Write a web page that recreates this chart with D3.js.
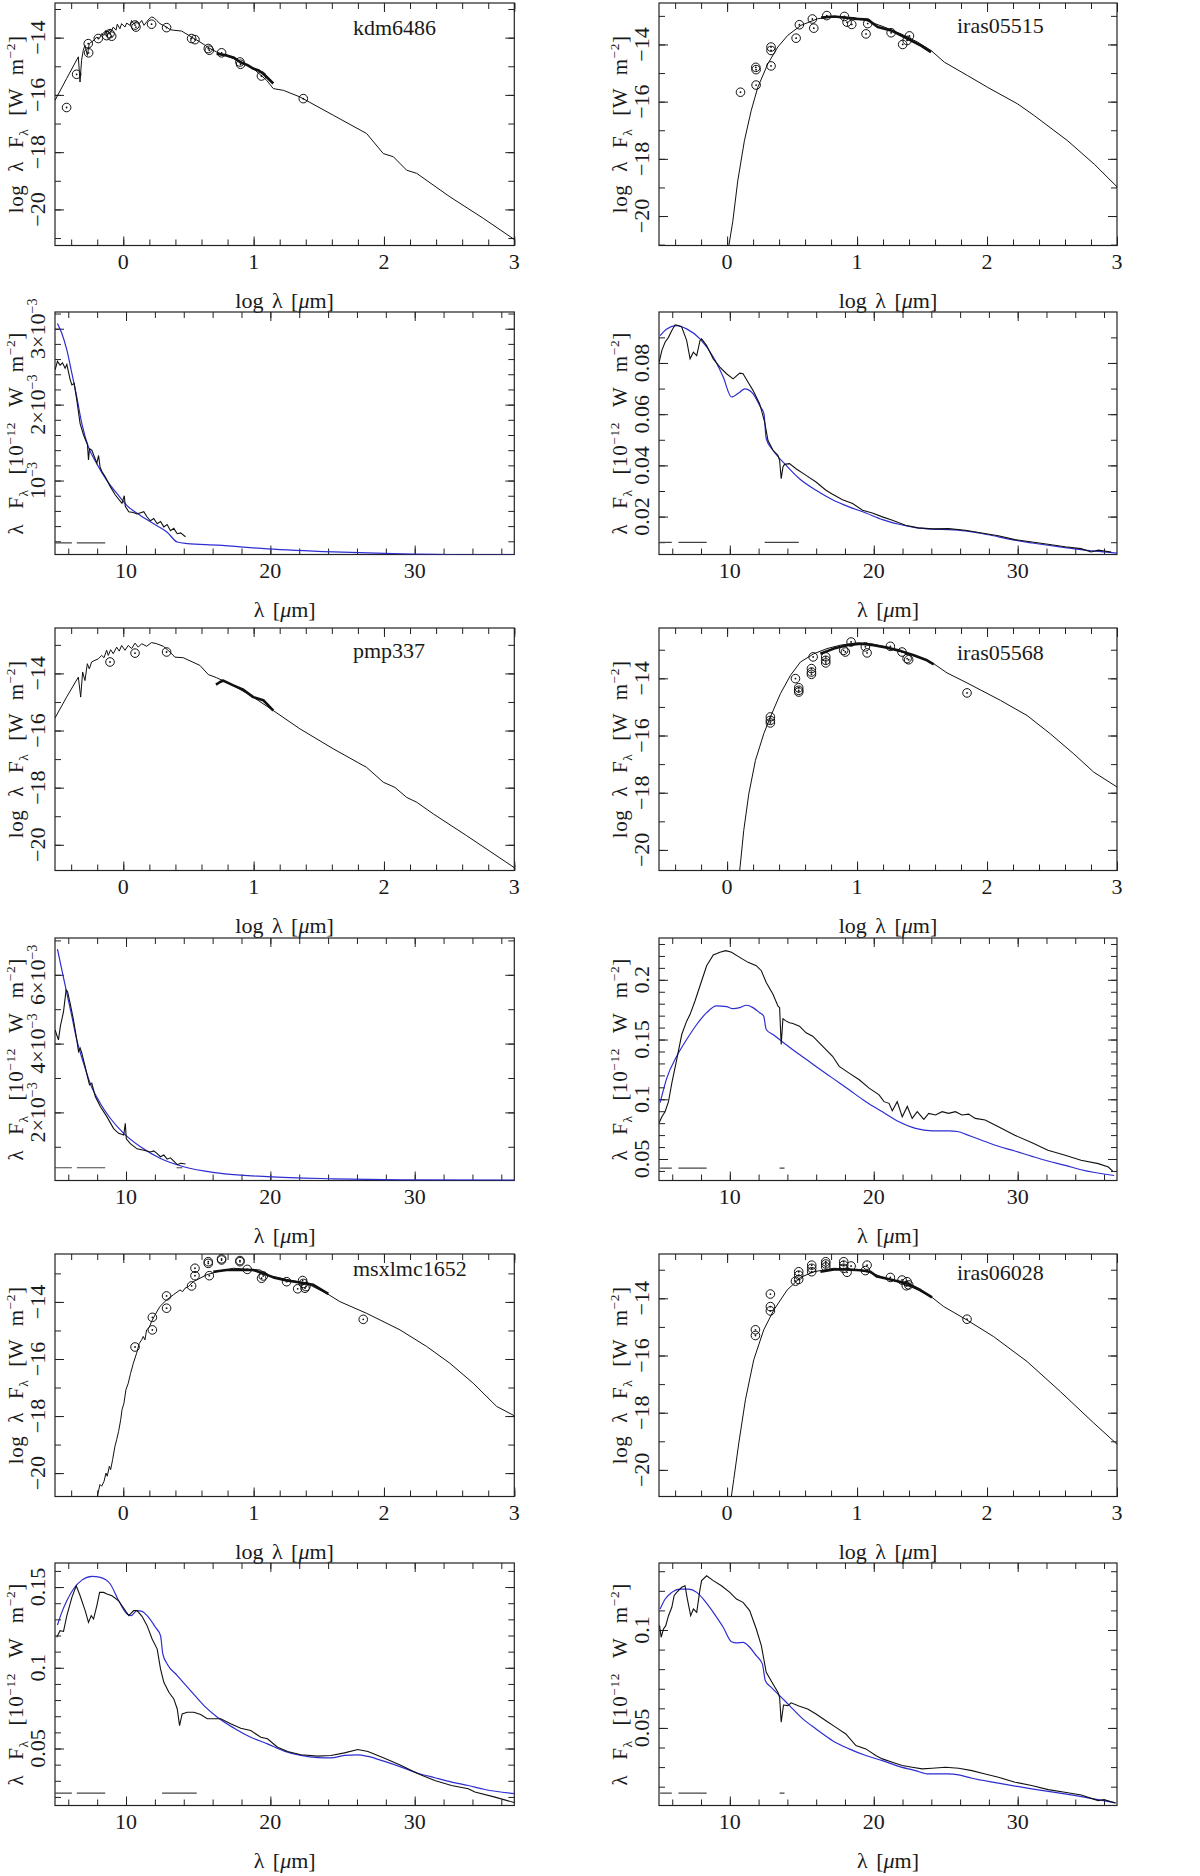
<!DOCTYPE html>
<html>
<head>
<meta charset="utf-8">
<script src="https://cdn.jsdelivr.net/npm/d3@7"></script>
<style>
body { margin: 0; background: #fff; overflow: hidden; }
svg text { font-family: "Liberation Serif", "Times New Roman", serif; fill: #1a1a1a; }
</style>
</head>
<body>
<div id="part"></div>
<script>

// ---- kdm6486 ----
var kdmModel = [[-0.524,-16.19],[-0.435,-15.43],[-0.345,-14.67],[-0.332,-15.55],[-0.320,-14.79],[-0.307,-14.44],[-0.294,-14.27],[-0.276,-14.62],[-0.261,-14.21],[-0.243,-14.15],[-0.225,-14.09],[-0.205,-13.98],[-0.184,-14.03],[-0.166,-13.86],[-0.148,-13.92],[-0.133,-13.74],[-0.123,-13.92],[-0.107,-13.72],[-0.095,-13.80],[-0.077,-13.63],[-0.056,-13.74],[-0.046,-13.53],[-0.026,-13.69],[-0.013,-13.51],[0.013,-13.63],[0.026,-13.49],[0.051,-13.57],[0.064,-13.40],[0.082,-13.53],[0.102,-13.42],[0.123,-13.51],[0.141,-13.40],[0.159,-13.57],[0.179,-13.45],[0.199,-13.34],[0.217,-13.28],[0.235,-13.30],[0.256,-13.40],[0.281,-13.51],[0.307,-13.57],[0.332,-13.63],[0.358,-13.72],[0.384,-13.74],[0.448,-13.77],[0.524,-13.98],[0.588,-14.15],[0.665,-14.38],[0.716,-14.50],[0.844,-14.73],[0.997,-15.08],[1.100,-15.49],[1.151,-15.78],[1.228,-15.84],[1.355,-16.07],[1.611,-16.71],[1.867,-17.35],[1.995,-18.05],[2.072,-18.16],[2.174,-18.63],[2.251,-18.74],[2.506,-19.56],[2.762,-20.31],[3.0,-21.05]];
var kdmIrs = [[0.716,-14.56],[0.793,-14.62],[0.850,-14.70],[0.895,-14.85],[0.950,-14.95],[0.997,-15.08],[1.040,-15.15],[1.074,-15.26],[1.110,-15.42],[1.151,-15.60]];
var kdmPhot = [[-0.435,-16.44],[-0.358,-15.28],[-0.266,-14.53],[-0.269,-14.21],[-0.192,-14.03],[-0.128,-13.93],[-0.102,-13.86],[-0.089,-13.95],[0.090,-13.56],[0.097,-13.63],[0.217,-13.53],[0.332,-13.65],[0.524,-14.03],[0.550,-14.07],[0.652,-14.38],[0.660,-14.44],[0.754,-14.53],[0.895,-14.85],[0.900,-14.93],[1.060,-15.34],[1.381,-16.13]];
var kdmSpec = [[5.09,0.00246],[5.25,0.00257],[5.43,0.00252],[5.6,0.00255],[5.78,0.00248],[5.9,0.00253],[6.13,0.00233],[6.25,0.00226],[6.41,0.00228],[6.59,0.00206],[6.82,0.00175],[7.06,0.0016],[7.33,0.00147],[7.40,0.00127],[7.47,0.00142],[7.63,0.00140],[7.98,0.00123],[8.1,0.00133],[8.2,0.00118],[8.33,0.00112],[8.56,0.00105],[8.91,0.00092],[9.26,0.00081],[9.72,0.0007],[9.88,0.00080],[9.95,0.00066],[10.19,0.00059],[10.5,0.00058],[10.76,0.00056],[11.23,0.00059],[11.46,0.00052],[11.69,0.00047],[11.92,0.0005],[12.16,0.00043],[12.39,0.00046],[12.62,0.00039],[12.85,0.00042],[13.08,0.00034],[13.31,0.00037],[13.55,0.0003],[13.78,0.00031],[14.12,0.00026]];
var kdmFit = [[5.25,0.00307],[5.55,0.00294],[5.9,0.00272],[6.25,0.00241],[6.59,0.0021],[6.94,0.00175],[7.4,0.00144],[7.98,0.00122],[8.68,0.001],[9.37,0.00083],[10.07,0.00067],[11.0,0.00054],[11.92,0.00043],[12.85,0.00032],[13.55,0.00019],[14.24,0.00017],[16.33,0.00015],[19.8,0.0001],[24.4,0.00006],[29.1,0.000035],[37,0.00002]];
var kdmDash = [[5.08,6.25],[6.59,8.56]];

// ---- iras05515 ----
var i05515Model = [[0.005,-21.5],[0.013,-21.05],[0.044,-20.18],[0.082,-18.77],[0.133,-17.37],[0.185,-16.32],[0.236,-15.5],[0.313,-14.68],[0.39,-14.09],[0.467,-13.68],[0.569,-13.33],[0.697,-13.1],[0.826,-13.02],[0.979,-13.06],[1.082,-13.18],[1.21,-13.39],[1.338,-13.63],[1.467,-13.92],[1.569,-14.21],[1.672,-14.62],[1.851,-15.09],[2.005,-15.5],[2.236,-16.08],[2.364,-16.49],[2.621,-17.37],[2.826,-18.19],[3.005,-19.0]];
var i05515Irs = [[0.723,-13.06],[0.826,-13.02],[0.979,-13.1],[1.082,-13.13],[1.159,-13.39],[1.262,-13.51],[1.39,-13.8],[1.492,-14.04],[1.569,-14.27]];
var i05515Phot = [[0.103,-15.67],[0.221,-14.8],[0.223,-14.88],[0.223,-15.42],[0.338,-14.09],[0.338,-14.21],[0.338,-14.75],[0.531,-13.78],[0.556,-13.31],[0.656,-13.11],[0.667,-13.43],[0.767,-12.99],[0.903,-13.02],[0.923,-13.22],[0.959,-13.3],[1.069,-13.63],[1.082,-13.27],[1.262,-13.59],[1.351,-14.0],[1.385,-13.86],[1.403,-13.7]];
var i05515Spec = [[5.09,0.0803],[5.28,0.0849],[5.5,0.0881],[5.74,0.09],[5.97,0.0927],[6.2,0.0949],[6.43,0.0946],[6.66,0.094],[7.0,0.0888],[7.24,0.0816],[7.47,0.0842],[7.7,0.0829],[7.93,0.0888],[8.04,0.0894],[8.39,0.0868],[8.85,0.0816],[9.31,0.0784],[9.77,0.0758],[10.23,0.0738],[10.69,0.076],[10.92,0.0758],[11.27,0.0725],[11.61,0.0693],[12.07,0.0641],[12.42,0.0569],[12.65,0.0498],[13.0,0.0459],[13.34,0.0439],[13.46,0.042],[13.57,0.0348],[13.69,0.0394],[13.8,0.0404],[14.15,0.0407],[14.6,0.0387],[15.3,0.0361],[15.99,0.0335],[16.68,0.0303],[17.14,0.0287],[17.83,0.0266],[18.53,0.0251],[19.22,0.0225],[19.9,0.0214],[20.6,0.0199],[21.3,0.0186],[22.2,0.0166],[23.1,0.0156],[24.06,0.0152],[25.2,0.0153],[26.36,0.0147],[27.5,0.0136],[28.66,0.0125],[29.8,0.011],[31.0,0.0101],[32.1,0.0092],[33.3,0.0082],[34.4,0.0075],[35.1,0.0062],[35.6,0.0069],[36.5,0.0062]];
var i05515Fit = [[5.16,0.0907],[5.62,0.0933],[6.31,0.0946],[7.0,0.0933],[7.93,0.0894],[8.85,0.0823],[9.54,0.0745],[10.12,0.0667],[10.69,0.0686],[11.04,0.0699],[11.61,0.068],[12.07,0.0634],[12.37,0.0602],[12.53,0.0504],[13.0,0.0459],[13.92,0.04],[14.84,0.0348],[15.99,0.0303],[17.14,0.0266],[18.29,0.0238],[19.45,0.0214],[20.6,0.0188],[21.75,0.017],[22.9,0.0157],[24.06,0.0151],[25.2,0.0149],[26.36,0.0144],[27.5,0.0134],[28.66,0.0121],[29.8,0.0108],[31.0,0.0097],[32.1,0.0088],[33.3,0.0079],[34.4,0.0071],[36.0,0.0062],[37.0,0.0057]];
var i05515Dash = [[5.16,5.97],[6.43,8.39],[12.42,14.79]];

// ---- pmp337 ----
var pmpModel = [[-0.524,-15.56],[-0.435,-14.83],[-0.345,-14.13],[-0.327,-14.83],[-0.312,-13.95],[-0.294,-14.25],[-0.276,-13.66],[-0.261,-13.84],[-0.243,-13.6],[-0.217,-13.54],[-0.192,-13.49],[-0.166,-13.37],[-0.148,-13.45],[-0.128,-13.19],[-0.115,-13.37],[-0.097,-13.17],[-0.077,-13.31],[-0.051,-13.08],[-0.031,-13.22],[-0.013,-13.02],[0.013,-13.19],[0.038,-13.02],[0.064,-13.13],[0.09,-12.94],[0.115,-13.08],[0.141,-12.96],[0.179,-13.05],[0.217,-12.92],[0.256,-12.96],[0.307,-13.05],[0.358,-13.25],[0.396,-13.43],[0.46,-13.45],[0.588,-13.72],[0.652,-14.04],[0.716,-14.15],[0.844,-14.42],[0.997,-14.83],[1.151,-15.3],[1.355,-15.94],[1.611,-16.64],[1.867,-17.29],[1.995,-17.81],[2.084,-17.99],[2.174,-18.34],[2.251,-18.51],[2.379,-18.92],[2.634,-19.68],[3.0,-20.8]];
var pmpIrs = [[0.711,-14.39],[0.742,-14.3],[0.767,-14.25],[0.844,-14.42],[0.921,-14.57],[0.997,-14.83],[1.074,-14.94],[1.1,-15.06],[1.151,-15.3]];
var pmpPhot = [[-0.102,-13.6],[0.09,-13.29],[0.332,-13.25]];
var pmpSpec = [[5.09,0.0044],[5.2,0.00425],[5.32,0.00411],[5.45,0.0045],[5.67,0.00493],[5.85,0.00556],[5.95,0.00551],[6.13,0.00517],[6.36,0.00469],[6.59,0.00411],[6.71,0.00377],[6.82,0.00387],[6.94,0.00372],[7.17,0.00333],[7.33,0.00304],[7.47,0.0028],[7.63,0.00285],[7.87,0.00246],[8.22,0.00217],[8.68,0.00187],[9.14,0.00153],[9.49,0.00139],[9.84,0.00134],[9.95,0.00168],[10.02,0.00123],[10.3,0.00109],[10.76,0.00094],[11.23,0.0009],[11.69,0.00085],[11.92,0.00088],[12.16,0.0008],[12.39,0.00071],[12.62,0.00076],[12.85,0.00064],[13.08,0.00068],[13.31,0.00058],[13.55,0.00048],[13.8,0.00052],[14.12,0.0005]];
var pmpFit = [[5.25,0.00675],[5.55,0.00615],[5.9,0.00547],[6.25,0.00479],[6.59,0.00411],[7.06,0.00343],[7.52,0.00284],[8.22,0.00226],[8.91,0.00183],[9.84,0.00139],[11.0,0.001],[12.39,0.00066],[14.0,0.00042],[16.33,0.00024],[19.8,0.00013],[24.4,0.00007],[29.1,0.00004],[37,0.00003]];
var pmpDash = [[5.08,6.25],[6.59,8.56],[13.5,13.9]];

// ---- iras05568 ----
var i05568Model = [[0.09,-21.0],[0.097,-20.72],[0.128,-19.32],[0.167,-18.04],[0.218,-16.87],[0.282,-15.94],[0.333,-15.35],[0.41,-14.54],[0.487,-13.9],[0.564,-13.43],[0.667,-13.14],[0.769,-12.96],[0.872,-12.84],[1.0,-12.76],[1.103,-12.79],[1.231,-12.9],[1.385,-13.14],[1.487,-13.28],[1.59,-13.49],[1.692,-13.81],[1.846,-14.16],[2.103,-14.77],[2.308,-15.3],[2.487,-15.94],[2.667,-16.64],[2.821,-17.28],[3.0,-17.8]];
var i05568Irs = [[0.718,-13.14],[0.821,-12.96],[0.923,-12.84],[1.026,-12.79],[1.128,-12.84],[1.231,-12.93],[1.333,-13.04],[1.436,-13.19],[1.538,-13.37],[1.59,-13.51]];
var i05568Phot = [[0.333,-15.35],[0.333,-15.47],[0.333,-15.56],[0.526,-14.01],[0.551,-14.33],[0.551,-14.42],[0.551,-14.48],[0.662,-13.25],[0.649,-13.66],[0.649,-13.78],[0.649,-13.86],[0.759,-13.25],[0.759,-13.37],[0.759,-13.46],[0.897,-13.02],[0.91,-13.08],[0.954,-12.73],[1.064,-12.9],[1.077,-13.11],[1.256,-12.88],[1.346,-13.08],[1.385,-13.31],[1.397,-13.35],[1.846,-14.51]];
var i05568Spec = [[5.09,0.0803],[5.28,0.0854],[5.5,0.0896],[5.74,0.098],[5.97,0.1135],[6.31,0.1331],[6.66,0.1542],[7.0,0.1654],[7.24,0.1711],[7.58,0.1823],[7.93,0.195],[8.39,0.2118],[8.85,0.2208],[9.31,0.223],[9.72,0.2244],[10.12,0.223],[10.69,0.2188],[11.27,0.2146],[11.84,0.2118],[12.19,0.2076],[12.53,0.1978],[13.0,0.1879],[13.34,0.1781],[13.46,0.1767],[13.57,0.1458],[13.69,0.1674],[13.92,0.1654],[14.15,0.164],[14.38,0.1635],[14.84,0.1612],[15.3,0.1556],[15.76,0.1528],[16.22,0.1472],[16.68,0.1416],[17.14,0.136],[17.6,0.1275],[18.29,0.1219],[18.99,0.1163],[19.68,0.1093],[20.37,0.1037],[20.71,0.098],[21.06,0.0966],[21.29,0.0904],[21.63,0.098],[21.98,0.0854],[22.33,0.094],[22.67,0.084],[23.02,0.0896],[23.48,0.0831],[23.82,0.0882],[24.29,0.0868],[24.75,0.0896],[25.2,0.0882],[25.67,0.0896],[26.13,0.0868],[26.59,0.0876],[27.05,0.084],[27.74,0.0826],[28.66,0.077],[29.8,0.0699],[31.0,0.0635],[32.1,0.0573],[33.3,0.0531],[34.4,0.0489],[35.6,0.0461],[36.3,0.0433],[36.6,0.0399]];
var i05568Fit = [[5.16,0.0972],[5.62,0.1177],[6.31,0.136],[7.0,0.15],[7.7,0.1626],[8.39,0.1725],[9.08,0.1781],[9.77,0.1775],[10.23,0.1758],[10.69,0.1767],[11.15,0.1787],[11.61,0.1767],[12.07,0.1725],[12.35,0.1697],[12.53,0.1584],[13.0,0.1542],[13.69,0.1478],[14.84,0.1374],[15.99,0.1275],[17.14,0.1177],[18.29,0.1079],[19.45,0.098],[20.6,0.0896],[21.75,0.0812],[22.9,0.0756],[24.06,0.0736],[25.2,0.0736],[25.9,0.0728],[26.36,0.0708],[27.5,0.0657],[28.66,0.0607],[29.8,0.0567],[31.0,0.0522],[32.1,0.0483],[33.3,0.0447],[34.4,0.041],[36.7,0.0362]];
var i05568Dash = [[5.16,5.97],[6.43,8.39],[13.46,13.8]];

// ---- msxlmc1652 ----
var msxModel = [[-0.205,-21.0],[-0.199,-20.81],[-0.179,-20.4],[-0.166,-20.46],[-0.148,-20.29],[-0.133,-20.0],[-0.123,-20.11],[-0.107,-19.76],[-0.097,-19.88],[-0.082,-19.53],[-0.064,-19.06],[-0.051,-18.83],[-0.036,-18.54],[-0.02,-18.13],[-0.01,-17.78],[0.005,-17.55],[0.02,-17.08],[0.038,-16.85],[0.056,-16.5],[0.077,-16.15],[0.102,-15.8],[0.123,-15.45],[0.141,-15.33],[0.153,-15.21],[0.166,-15.33],[0.179,-14.98],[0.199,-14.89],[0.217,-14.69],[0.243,-14.46],[0.281,-14.16],[0.332,-13.93],[0.384,-13.75],[0.435,-13.58],[0.455,-13.64],[0.473,-13.52],[0.499,-13.46],[0.537,-13.29],[0.639,-13.05],[0.742,-12.91],[0.844,-12.82],[0.972,-12.86],[1.049,-12.88],[1.125,-13.08],[1.253,-13.21],[1.407,-13.35],[1.56,-13.7],[1.662,-13.99],[1.867,-14.4],[2.123,-14.98],[2.327,-15.56],[2.506,-16.15],[2.685,-16.85],[2.864,-17.66],[3.0,-17.99]];
var msxIrs = [[0.691,-12.94],[0.793,-12.88],[0.895,-12.88],[0.997,-12.88],[1.074,-13.0],[1.151,-13.14],[1.253,-13.25],[1.355,-13.32],[1.458,-13.4],[1.573,-13.72]];
var msxPhot = [[0.09,-15.58],[0.223,-14.54],[0.223,-14.98],[0.332,-13.79],[0.332,-14.22],[0.524,-13.44],[0.55,-12.82],[0.55,-13.08],[0.652,-12.59],[0.652,-12.65],[0.66,-13.08],[0.754,-12.49],[0.754,-12.53],[0.895,-12.55],[0.895,-12.59],[0.951,-12.86],[1.061,-13.17],[1.074,-13.09],[1.253,-13.29],[1.338,-13.54],[1.376,-13.25],[1.381,-13.35],[1.394,-13.52],[1.401,-13.46],[1.841,-14.61]];
var msxSpec = [[5.2,0.1189],[5.43,0.123],[5.67,0.1225],[5.9,0.1323],[6.25,0.1436],[6.55,0.1508],[6.82,0.1446],[7.17,0.1354],[7.4,0.1281],[7.59,0.1323],[7.75,0.1302],[7.98,0.1385],[8.17,0.1467],[8.45,0.1467],[8.68,0.1457],[9.03,0.1446],[9.49,0.1415],[9.88,0.1364],[10.19,0.1323],[10.53,0.1354],[10.76,0.1354],[11.11,0.1319],[11.46,0.1261],[11.81,0.1178],[12.16,0.1116],[12.39,0.0993],[12.62,0.091],[12.97,0.0848],[13.31,0.0807],[13.55,0.0745],[13.71,0.0642],[13.89,0.0714],[14.24,0.0725],[14.7,0.0725],[15.17,0.071],[15.63,0.0684],[16.56,0.0684],[17.25,0.0653],[17.95,0.0626],[18.64,0.0611],[19.34,0.057],[19.8,0.056],[20.5,0.0508],[21.2,0.0481],[22.12,0.0461],[23.28,0.0453],[24.2,0.0457],[25.13,0.0473],[26.06,0.0494],[26.76,0.0481],[27.91,0.044],[29.07,0.0395],[30.23,0.0343],[31.39,0.0302],[32.55,0.0271],[33.71,0.0251],[34.17,0.023],[35.56,0.0199],[36.95,0.0164]];
var msxFit = [[5.25,0.1265],[5.55,0.1343],[5.9,0.1415],[6.36,0.1488],[6.94,0.1543],[7.64,0.1566],[8.22,0.156],[8.91,0.1519],[9.49,0.1415],[10.07,0.1333],[10.35,0.1323],[10.76,0.1354],[11.11,0.1349],[11.46,0.1323],[12.04,0.1251],[12.39,0.1199],[12.55,0.1086],[12.85,0.1024],[13.55,0.0952],[14.47,0.0859],[15.4,0.0766],[16.33,0.0694],[17.49,0.0626],[18.64,0.057],[19.8,0.0529],[20.96,0.0484],[22.12,0.0457],[23.28,0.0444],[24.2,0.0442],[25.13,0.0457],[26.06,0.0461],[26.76,0.0451],[27.91,0.042],[29.07,0.0385],[30.23,0.0347],[31.39,0.0319],[32.55,0.0292],[33.71,0.0271],[34.87,0.0246],[36.95,0.022]];
var msxDash = [[5.08,6.25],[6.59,8.56],[12.5,14.9]];

// ---- iras06028 ----
var i06028Model = [[0.028,-21.2],[0.033,-20.92],[0.051,-20.34],[0.09,-19.06],[0.141,-17.55],[0.205,-16.15],[0.282,-15.1],[0.359,-14.41],[0.462,-13.71],[0.564,-13.27],[0.667,-13.07],[0.821,-12.95],[0.974,-12.99],[1.077,-13.07],[1.205,-13.27],[1.333,-13.45],[1.462,-13.69],[1.577,-13.97],[1.667,-14.29],[1.846,-14.76],[2.051,-15.34],[2.308,-16.21],[2.564,-17.26],[2.821,-18.36],[3.005,-19.12]];
var i06028Irs = [[0.718,-13.07],[0.821,-12.99],[0.923,-12.99],[1.026,-13.02],[1.103,-13.07],[1.154,-13.24],[1.256,-13.34],[1.385,-13.48],[1.487,-13.71],[1.577,-13.97]];
var i06028Phot = [[0.218,-15.1],[0.218,-15.3],[0.333,-13.85],[0.333,-14.29],[0.333,-14.44],[0.526,-13.4],[0.551,-13.07],[0.551,-13.19],[0.551,-13.34],[0.651,-12.84],[0.651,-12.95],[0.651,-13.07],[0.759,-12.72],[0.759,-12.8],[0.759,-12.9],[0.897,-12.72],[0.897,-12.84],[0.897,-12.95],[0.923,-13.09],[0.954,-12.87],[1.064,-13.03],[1.077,-12.84],[1.256,-13.27],[1.346,-13.36],[1.385,-13.42],[1.397,-13.53],[1.379,-13.56],[1.846,-14.73]];
var i06028Spec = [[5.12,0.1022],[5.23,0.0963],[5.39,0.1005],[5.55,0.1022],[5.74,0.1073],[5.97,0.1116],[6.13,0.1175],[6.31,0.1192],[6.66,0.1218],[6.89,0.1226],[7.05,0.1158],[7.28,0.1073],[7.47,0.1107],[7.7,0.109],[7.93,0.1209],[8.04,0.1252],[8.39,0.1277],[8.85,0.1252],[9.42,0.1226],[10.0,0.1192],[10.46,0.1158],[10.92,0.1141],[11.38,0.1099],[11.84,0.1005],[12.19,0.092],[12.53,0.0784],[13.0,0.0724],[13.34,0.0682],[13.46,0.0656],[13.57,0.0529],[13.73,0.0617],[14.03,0.0614],[14.26,0.0628],[14.84,0.0611],[15.41,0.0597],[15.99,0.0571],[16.68,0.0537],[17.37,0.0503],[18.06,0.0469],[18.76,0.041],[19.45,0.0393],[20.14,0.0359],[20.6,0.0342],[21.29,0.0325],[21.98,0.0308],[22.67,0.0299],[23.36,0.0291],[24.06,0.0294],[24.98,0.0299],[25.9,0.0294],[26.82,0.0282],[27.74,0.0265],[28.66,0.0248],[29.82,0.0223],[30.97,0.0206],[32.12,0.0185],[33.27,0.0172],[34.42,0.0158],[35.58,0.0129],[36.0,0.0134],[36.8,0.0117]];
var i06028Fit = [[5.16,0.1107],[5.51,0.1158],[5.97,0.1192],[6.54,0.1209],[7.12,0.1209],[7.7,0.1192],[8.16,0.1158],[8.85,0.109],[9.54,0.1014],[10.12,0.094],[10.46,0.0934],[10.92,0.0937],[11.38,0.0912],[11.84,0.0869],[12.26,0.0827],[12.47,0.0741],[12.88,0.0707],[13.46,0.0665],[14.15,0.0614],[15.07,0.0546],[15.99,0.0495],[17.14,0.0435],[18.29,0.0393],[19.45,0.0359],[20.6,0.0333],[21.75,0.0304],[22.9,0.0282],[23.82,0.0265],[25.2,0.0265],[25.9,0.026],[26.82,0.0243],[28.66,0.0218],[30.97,0.0189],[33.27,0.0163],[35.58,0.0134],[36.8,0.0117]];
var i06028Dash = [[5.16,5.97],[6.43,8.39],[13.46,13.8]];

// object names, tick label sets
var sedNames = ["kdm6486", "iras05515", "pmp337", "iras05568", "msxlmc1652", "iras06028"];
var logXTicks = [0, 1, 2, 3];
var linXTicks = [10, 20, 30];


var width = 1200, height = 1876;
var svg = d3.select("#part").append("svg")
    .attr("width", width)
    .attr("height", height);

var colX = [[55, 514.3], [659, 1117]];
var rowY = [3, 312, 628, 938, 1254, 1563];
var panelH = 242.5;
var blue = "#2d2dd2";
var fs = 22;

var panels = [
  {kind:"log", col:0, row:0, name:sedNames[0], yDom:[-21.26,-12.79], model:kdmModel, irs:kdmIrs, phot:kdmPhot, nameDy:32},
  {kind:"log", col:1, row:0, name:sedNames[1], yDom:[-21.03,-12.55], model:i05515Model, irs:i05515Irs, phot:i05515Phot, nameDy:30},
  {kind:"lin", col:0, row:1, yDom:[0.000026,0.00322], yMajor:0.001, yMinor:0.0002, sci:true, spec:kdmSpec, fit:kdmFit, dash:kdmDash, dashY:0.00018},
  {kind:"lin", col:1, row:1, yDom:[0.0052,0.0999], yMajor:0.02, yMinor:0.01, spec:i05515Spec, fit:i05515Fit, dash:i05515Dash, dashY:0.0099},
  {kind:"log", col:0, row:2, name:sedNames[2], yDom:[-20.9,-12.41], model:pmpModel, irs:pmpIrs, phot:pmpPhot, nameDy:30},
  {kind:"log", col:1, row:2, name:sedNames[3], yDom:[-20.72,-12.24], model:i05568Model, irs:i05568Irs, phot:i05568Phot, nameDy:32},
  {kind:"lin", col:0, row:3, yDom:[0.00002,0.00707], yMajor:0.002, yMinor:0.001, sci:true, spec:pmpSpec, fit:pmpFit, dash:pmpDash, dashY:0.00039},
  {kind:"lin", col:1, row:3, yDom:[0.032,0.235], yMajor:0.05, yMinor:0.01, spec:i05568Spec, fit:i05568Fit, dash:i05568Dash, dashY:0.0424},
  {kind:"log", col:0, row:4, name:sedNames[4], yDom:[-20.82,-12.32], model:msxModel, irs:msxIrs, phot:msxPhot, nameDy:22},
  {kind:"log", col:1, row:4, name:sedNames[5], yDom:[-20.93,-12.45], model:i06028Model, irs:i06028Irs, phot:i06028Phot, nameDy:26},
  {kind:"lin", col:0, row:5, yDom:[0.0147,0.1649], yMajor:0.05, yMinor:0.01, spec:msxSpec, fit:msxFit, dash:msxDash, dashY:0.0224},
  {kind:"lin", col:1, row:5, yDom:[0.0104,0.1342], yMajor:0.05, yMinor:0.01, spec:i06028Spec, fit:i06028Fit, dash:i06028Dash, dashY:0.0167}
];

function multiples(d, step) {
  var lo = Math.ceil(d[0] / step - 1e-9), hi = Math.floor(d[1] / step + 1e-9);
  return d3.range(lo, hi + 1).map(function(k){ return +(k * step).toPrecision(10); });
}

// text with sub / superscripts, parts = [[str, mode]]
function rich(t, parts, size) {
  var shift = 0;
  parts.forEach(function(p){
    var s = t.append("tspan").text(p[0]);
    var target = p[1] === "sup" ? -0.36 * size : (p[1] === "sub" ? 0.26 * size : 0);
    if (target !== shift) { s.attr("dy", target - shift); shift = target; }
    if (p[1] === "sup" || p[1] === "sub") s.attr("font-size", 0.64 * size);
    if (p[1] === "it") s.attr("font-style", "italic");
  });
}

function sciParts(v) {
  var m = Math.round(v / 0.001);
  var parts = m === 1 ? [["10",""]] : [[m + "\u00d710", ""]];
  parts.push(["\u22123", "sup"]);
  return parts;
}

panels.forEach(function(p, idx){
  var x0 = colX[p.col][0], x1 = colX[p.col][1];
  var top = rowY[p.row], bottom = top + panelH;
  var xDom = p.kind === "log" ? [-0.524, 3] : [5.08, 36.9];
  var x = d3.scaleLinear().domain(xDom).range([x0, x1]);
  var y = d3.scaleLinear().domain(p.yDom).range([bottom, top]);
  var g = svg.append("g").attr("class", "panel").style("color", "#222");

  var clipId = "clip" + idx;
  g.append("clipPath").attr("id", clipId).append("rect")
      .attr("x", x0).attr("y", top).attr("width", x1 - x0).attr("height", panelH);

  // ticks, all four sides, pointing inward
  var xMajor = p.kind === "log" ? 1 : 10, xMinor = p.kind === "log" ? 0.2 : 2;
  var yMajor = p.kind === "log" ? 2 : p.yMajor, yMinor = p.kind === "log" ? 1 : p.yMinor;
  [[xMinor, 6], [xMajor, 9]].forEach(function(t){
    var vals = multiples(xDom, t[0]);
    [[d3.axisBottom(x), bottom], [d3.axisTop(x), top]].forEach(function(a){
      var ax = g.append("g").attr("transform", "translate(0," + a[1] + ")")
        .call(a[0].tickValues(vals).tickSize(-t[1]).tickSizeOuter(0).tickFormat(""));
      ax.select(".domain").remove();
      ax.selectAll("text").remove();
    });
  });
  [[yMinor, 6], [yMajor, 9]].forEach(function(t){
    var vals = multiples(p.yDom, t[0]);
    [[d3.axisLeft(y), x0], [d3.axisRight(y), x1]].forEach(function(a){
      var ax = g.append("g").attr("transform", "translate(" + a[1] + ",0)")
        .call(a[0].tickValues(vals).tickSize(-t[1]).tickSizeOuter(0).tickFormat(""));
      ax.select(".domain").remove();
      ax.selectAll("text").remove();
    });
  });

  g.append("rect").attr("x", x0).attr("y", top).attr("width", x1 - x0).attr("height", panelH)
      .attr("fill", "none").attr("stroke", "#222").attr("stroke-width", 1.2);

  // x tick labels
  (p.kind === "log" ? logXTicks : linXTicks).forEach(function(v){
    g.append("text").attr("x", x(v)).attr("y", bottom + 23)
      .attr("text-anchor", "middle").attr("font-size", fs).text(v);
  });

  // y tick labels, rotated
  multiples(p.yDom, yMajor).forEach(function(v){
    var t = g.append("text").attr("font-size", fs).attr("text-anchor", "middle")
      .attr("transform", "translate(" + (x0 - 10) + "," + y(v) + ") rotate(-90)");
    if (p.kind === "log") t.text("\u2212" + Math.abs(v));
    else if (p.sci) rich(t, sciParts(v), fs);
    else t.text(String(v));
  });

  // axis titles
  var xt = g.append("text").attr("x", (x0 + x1) / 2).attr("y", bottom + 62)
      .attr("text-anchor", "middle").attr("font-size", fs).style("word-spacing", "3px");
  rich(xt, p.kind === "log"
      ? [["log \u03bb [", ""], ["\u03bc", "it"], ["m]", ""]]
      : [["\u03bb [", ""], ["\u03bc", "it"], ["m]", ""]], fs);

  var yt = g.append("text").attr("font-size", 21).attr("text-anchor", "middle")
      .style("word-spacing", p.kind === "log" ? "7px" : "9px")
      .style("letter-spacing", "0.6px")
      .attr("transform", "translate(" + (x0 - 32) + "," + ((top + bottom) / 2) + ") rotate(-90)");
  rich(yt, p.kind === "log"
      ? [["log \u03bb F", ""], ["\u03bb", "sub"], [" [W m", ""], ["\u22122", "sup"], ["]", ""]]
      : [["\u03bb F", ""], ["\u03bb", "sub"], [" [10", ""], ["\u221212", "sup"], [" W m", ""], ["\u22122", "sup"], ["]", ""]], 21);

  var plot = g.append("g").attr("clip-path", "url(#" + clipId + ")");
  var line = d3.line().x(function(d){ return x(d[0]); }).y(function(d){ return y(d[1]); });
  var smooth = d3.line().curve(d3.curveMonotoneX).x(function(d){ return x(d[0]); }).y(function(d){ return y(d[1]); });

  if (p.kind === "log") {
    plot.append("path").datum(p.model).attr("d", line)
      .attr("fill", "none").attr("stroke", "#111").attr("stroke-width", 1);
    plot.append("path").datum(p.irs).attr("d", line)
      .attr("fill", "none").attr("stroke", "#111").attr("stroke-width", 2.6)
      .attr("stroke-linejoin", "round");
    var pt = plot.selectAll("g.phot").data(p.phot).enter().append("g").attr("class", "phot")
      .attr("transform", function(d){ return "translate(" + x(d[0]) + "," + y(d[1]) + ")"; });
    pt.append("circle").attr("r", 4.3).attr("fill", "none").attr("stroke", "#111").attr("stroke-width", 1);
    pt.append("circle").attr("r", 0.9).attr("fill", "#111");
    g.append("text").attr("x", x0 + 298).attr("y", top + p.nameDy)
      .attr("font-size", fs).text(p.name);
  } else {
    plot.selectAll("line.dash").data(p.dash).enter().append("line").attr("class", "dash")
      .attr("x1", function(d){ return x(d[0]); }).attr("x2", function(d){ return x(d[1]); })
      .attr("y1", y(p.dashY)).attr("y2", y(p.dashY))
      .attr("stroke", "#444").attr("stroke-width", 1.2);
    plot.append("path").datum(p.fit).attr("d", smooth)
      .attr("fill", "none").attr("stroke", blue).attr("stroke-width", 1.2);
    plot.append("path").datum(p.spec).attr("d", line)
      .attr("fill", "none").attr("stroke", "#111").attr("stroke-width", 1.1);
  }
});

</script>
</body>
</html>
